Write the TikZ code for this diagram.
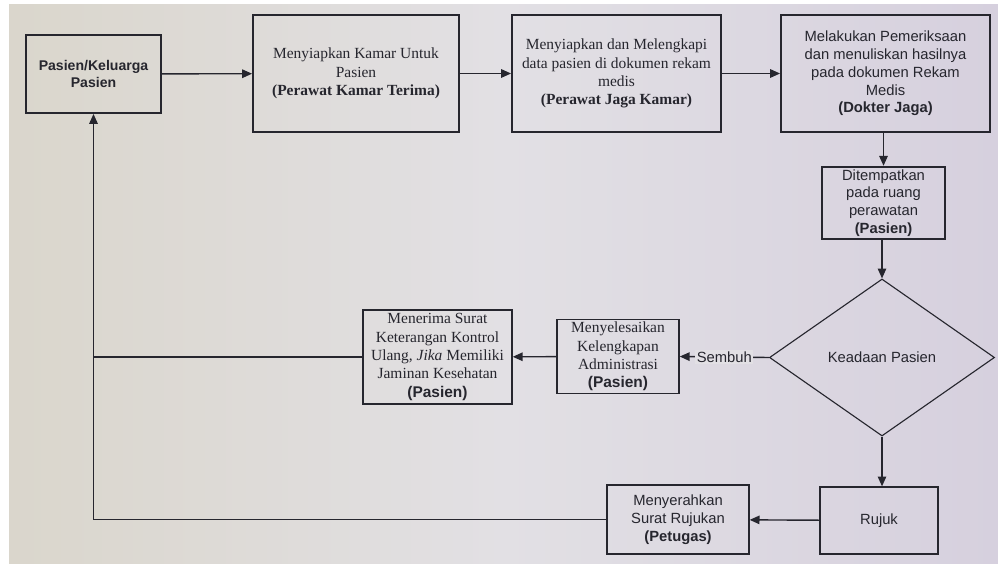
\documentclass[tikz,border=0pt]{standalone}
\usepackage{fontspec}
\setmainfont{Liberation Serif}
\setsansfont{Liberation Sans}
\usepackage{tikz}
\usetikzlibrary{shapes.geometric, arrows.meta, positioning}
\definecolor{inkdark}{RGB}{38, 38, 46}
\definecolor{screenbeige}{RGB}{218, 214, 204}
\definecolor{screenlilac}{RGB}{214, 208, 222}
\definecolor{screenmid}{RGB}{226, 224, 228}

\begin{document}
\begin{tikzpicture}[x=0.025cm, y=-0.025cm,
    flowbox/.style={draw=inkdark, line width=1.3pt, align=center, inner sep=2pt,
      text=inkdark, font=\fontsize{11}{13}\selectfont},
    sansbox/.style={flowbox, font=\sffamily\fontsize{10.5}{12.6}\selectfont},
    decision/.style={diamond, draw=inkdark, line width=0.8pt, inner sep=0pt,
      text=inkdark, font=\sffamily\fontsize{10.5}{12.6}\selectfont},
    flow/.style={draw=inkdark, line width=1pt, -{Triangle[length=7pt, width=6pt]}},
    plainline/.style={draw=inkdark, line width=1pt}]
  \useasboundingbox (0, 0) rectangle (998, 564);
  % screen background
  \shade[left color=screenbeige, right color=screenlilac, middle color=screenmid]
    (9, 5) rectangle (998, 564);

  % top row
  \node[sansbox, font=\sffamily\bfseries\fontsize{10}{12.6}\selectfont,
    minimum width=3.375cm, minimum height=1.95cm] (pasien) at (93.5, 74)
    {Pasien/Keluarga\\Pasien};
  \node[flowbox, minimum width=5.15cm, minimum height=2.925cm] (kamar) at (356, 73.5)
    {Menyiapkan Kamar Untuk\\Pasien\\\textbf{(Perawat Kamar Terima)}};
  \node[flowbox, minimum width=5.225cm, minimum height=2.925cm] (rekam) at (616.5, 73.5)
    {Menyiapkan dan Melengkapi\\data pasien di dokumen rekam\\medis\\\textbf{(Perawat Jaga Kamar)}};
  \node[sansbox, minimum width=5.225cm, minimum height=2.925cm] (periksa) at (885.5, 73.5)
    {Melakukan Pemeriksaan\\dan menuliskan hasilnya\\pada dokumen Rekam\\Medis\\\textbf{(Dokter Jaga)}};

  % right column
  \node[sansbox, minimum width=3.075cm, minimum height=1.75cm] (ruang) at (883.5, 203)
    {Ditempatkan\\pada ruang\\perawatan\\\textbf{(Pasien)}};
  \node[decision, minimum width=5.625cm, minimum height=3.925cm] (keadaan) at (882, 357.5)
    {Keadaan Pasien};
  \node[sansbox, line width=0.9pt, minimum width=2.95cm, minimum height=1.675cm] (rujuk) at (879, 520.5)
    {Rujuk};

  % lower rows
  \node[flowbox, line width=1pt, minimum width=3.05cm, minimum height=1.725cm] (admin) at (618, 356.5)
    {Menyelesaikan\\Kelengkapan\\Administrasi\\\textsf{\textbf{(Pasien)}}};
  \node[flowbox, line width=1pt, minimum width=3.725cm, minimum height=2.35cm] (kontrol) at (437.5, 357)
    {Menerima Surat\\Keterangan Kontrol\\Ulang, \textit{Jika} Memiliki\\Jaminan Kesehatan\\\textsf{\textbf{(Pasien)}}};
  \node[sansbox, line width=0.9pt, minimum width=3.55cm, minimum height=1.725cm] (surat) at (678, 519.5)
    {Menyerahkan\\Surat Rujukan\\\textbf{(Petugas)}};

  % connectors
  \draw[flow] (pasien) -- (kamar);
  \draw[flow] (kamar) -- (rekam);
  \draw[flow] (rekam) -- (periksa);
  \draw[flow] (periksa.south -| ruang.north) -- (ruang.north);
  \draw[flow] (ruang.south -| keadaan.north) -- (keadaan.north);
  \draw[flow] (keadaan.west) -- node[fill=screenmid, inner sep=1pt, text=inkdark,
    font=\sffamily\fontsize{10.5}{12.6}\selectfont] {Sembuh} (admin.east);
  \draw[flow] (admin) -- (kontrol);
  \draw[flow] (keadaan.south) -- (keadaan.south |- rujuk.north);
  \draw[flow] (rujuk) -- (surat);
  \coordinate (balik) at (kontrol.west -| pasien.south);
  \draw[plainline] (kontrol.west) -- (balik);
  \draw[flow] (surat.west) -| (pasien.south);
\end{tikzpicture}
\end{document}
